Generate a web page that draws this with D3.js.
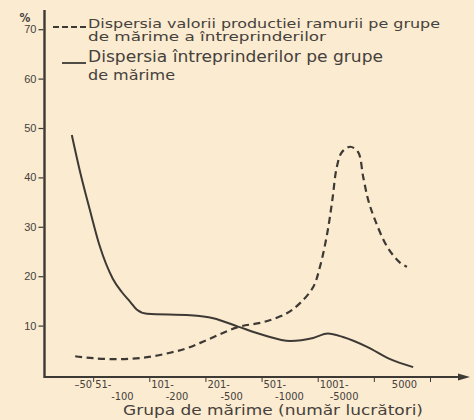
<!DOCTYPE html>
<html>
<head>
<meta charset="utf-8">
<script src="https://cdn.jsdelivr.net/npm/d3@7"></script>
<style>
  body { margin: 0; background: #fbebd0; }
  svg { display: block; font-family: "DejaVu Sans Condensed", "DejaVu Sans", sans-serif; }
  text { fill: #45413c; }
</style>
</head>
<body>
<div id="chart"></div>
<script>
// DATA (x = position along the axis, counted in size groups)
const groupLabelsTop = ["51-", "101-", "201-", "501-", "1001-"];
const groupLabelsBottom = ["-100", "-200", "-500", "-1000", "-5000"];
const firstLabel = "–50";
const lastLabel = "5000";
const yTicks = [10, 20, 30, 40, 50, 60, 70];

// solid: Dispersia întreprinderilor pe grupe de mărime
const solidX = [0.62, 0.77, 0.94, 1.12, 1.35, 1.51, 1.66, 1.78, 1.96, 2.73, 3.14, 3.58, 4.03, 4.51, 4.92, 5.18, 5.45, 5.88, 6.29, 6.70];
const solidY = [48.6, 41.0, 33.5, 26.0, 19.5, 16.8, 14.8, 13.2, 12.4, 12.1, 11.5, 9.8, 8.1, 6.9, 7.5, 8.4, 7.7, 5.7, 3.2, 1.6];

// dashed: Dispersia valorii productiei ramurii
const dashX = [0.68, 1.00, 1.48, 1.96, 2.37, 2.69, 3.03, 3.58, 4.03, 4.45, 4.69, 4.92, 5.04, 5.17, 5.26, 5.34, 5.43, 5.58, 5.72, 5.81, 5.90, 6.02, 6.24, 6.47, 6.59];
const dashY = [3.8, 3.4, 3.2, 3.6, 4.5, 5.5, 7.1, 9.7, 10.7, 12.5, 14.6, 17.8, 21.9, 28.7, 35.4, 42.1, 45.1, 46.2, 45.1, 40.1, 35.4, 31.4, 25.9, 22.7, 21.9];

const W = 474, H = 420;
const ink = "#3d3935";

const svg = d3.select("#chart").append("svg")
    .attr("width", W)
    .attr("height", H);

const x = d3.scaleLinear().domain([0, 7]).range([37, 430]);
const y = d3.scaleLinear().domain([0, 50]).range([375, 128]);
const axisY = 377, axisX = 44.5;

// axes
svg.append("line")
    .attr("x1", axisX).attr("x2", axisX)
    .attr("y1", 10).attr("y2", axisY + 1)
    .attr("stroke", ink).attr("stroke-width", 2.4);

svg.append("line")
    .attr("x1", axisX).attr("x2", 466)
    .attr("y1", axisY).attr("y2", axisY)
    .attr("stroke", ink).attr("stroke-width", 2);

svg.append("path")
    .attr("d", `M458,${axisY - 3.5} L470,${axisY} L458,${axisY + 3.5} Z`)
    .attr("fill", ink);

// y ticks
const yAxis = svg.append("g")
    .attr("transform", `translate(${axisX - 1},0)`)
    .call(d3.axisLeft(y).tickValues(yTicks).tickSize(5).tickPadding(2));
yAxis.select(".domain").remove();
yAxis.selectAll(".tick line").attr("stroke", ink).attr("stroke-width", 1.2);
yAxis.selectAll(".tick text")
    .style("font-size", "11px")
    .style("fill", "#45413c");

svg.append("text")
    .attr("x", 25).attr("y", 22)
    .attr("text-anchor", "middle")
    .style("font-size", "12px")
    .style("font-weight", "bold")
    .text("%");

// x ticks at group boundaries
const xAxis = svg.append("g")
    .attr("transform", `translate(0,${axisY})`)
    .call(d3.axisBottom(x).tickValues([1, 2, 3, 4, 5, 6, 7]).tickSize(5).tickFormat(""));
xAxis.select(".domain").remove();
xAxis.selectAll(".tick line").attr("stroke", ink).attr("stroke-width", 1);

svg.append("text")
    .attr("x", x(1) - 1).attr("y", 388)
    .attr("text-anchor", "end")
    .style("font-size", "11px")
    .text(firstLabel);

svg.selectAll(".lblTop")
    .data(groupLabelsTop)
    .enter().append("text")
    .attr("class", "lblTop")
    .attr("x", (d, i) => x(i + 1) + 2)
    .attr("y", 388)
    .style("font-size", "11px")
    .text(d => d);

svg.selectAll(".lblBot")
    .data(groupLabelsBottom)
    .enter().append("text")
    .attr("class", "lblBot")
    .attr("x", (d, i) => x(i + 1) + 18 - i * 1.5)
    .attr("y", 400)
    .style("font-size", "11px")
    .text(d => d);

svg.append("text")
    .attr("x", x(6) + 18).attr("y", 388)
    .style("font-size", "11px")
    .text(lastLabel);

svg.append("text")
    .attr("x", 123).attr("y", 415)
    .attr("textLength", 300)
    .attr("lengthAdjust", "spacingAndGlyphs")
    .style("font-size", "14px")
    .text("Grupa de mărime (număr lucrători)");

// lines
const lineSolid = d3.line()
    .x(d => x(d[0]))
    .y(d => y(d[1]))
    .curve(d3.curveMonotoneX);

const lineDash = d3.line()
    .x(d => x(d[0]))
    .y(d => y(d[1]))
    .curve(d3.curveCatmullRom.alpha(0.5));

svg.append("path")
    .datum(d3.zip(solidX, solidY))
    .attr("fill", "none")
    .attr("stroke", ink)
    .attr("stroke-width", 2)
    .attr("d", lineSolid);

svg.append("path")
    .datum(d3.zip(dashX, dashY))
    .attr("fill", "none")
    .attr("stroke", ink)
    .attr("stroke-width", 2.2)
    .attr("stroke-dasharray", "7,4.5")
    .attr("d", lineDash);

// legend
svg.append("line")
    .attr("x1", 53).attr("x2", 86)
    .attr("y1", 27).attr("y2", 27)
    .attr("stroke", ink).attr("stroke-width", 1.8)
    .attr("stroke-dasharray", "6,3");

svg.append("line")
    .attr("x1", 62).attr("x2", 86)
    .attr("y1", 63).attr("y2", 63)
    .attr("stroke", ink).attr("stroke-width", 1.8);

const legendLines = [
    { t: "Dispersia valorii productiei ramurii pe grupe", y: 28, s: 13, w: 352 },
    { t: "de mărime a întreprinderilor", y: 41, s: 12, w: 238 },
    { t: "Dispersia întreprinderilor pe grupe", y: 62, s: 15, w: 295 },
    { t: "de mărime", y: 80, s: 14, w: 87 }
];

svg.selectAll(".leg")
    .data(legendLines)
    .enter().append("text")
    .attr("class", "leg")
    .attr("x", 88)
    .attr("y", d => d.y)
    .attr("textLength", d => d.w)
    .attr("lengthAdjust", "spacingAndGlyphs")
    .style("font-size", d => d.s + "px")
    .text(d => d.t);
</script>
</body>
</html>
